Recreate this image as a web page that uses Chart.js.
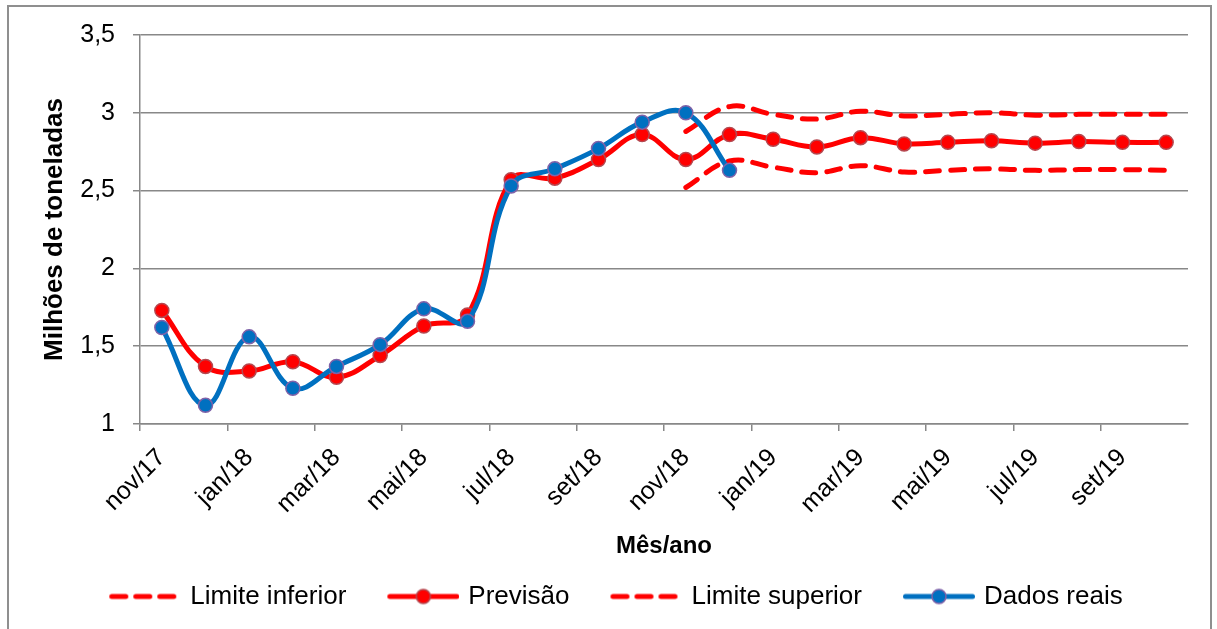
<!DOCTYPE html>
<html lang="pt">
<head>
<meta charset="utf-8">
<title>Previsão mensal</title>
<script src="https://cdn.jsdelivr.net/npm/chart.js@4.4.1/dist/chart.umd.min.js"></script>
<style>
  html, body { margin: 0; padding: 0; background: #ffffff; }
  #wrap { position: relative; width: 1217px; height: 629px; overflow: hidden; }
  #grafico { position: absolute; left: 0; top: 0; }
  #moldura { position: absolute; left: 7px; top: 5px; width: 1205px; height: 700px;
             border: 2px solid #8f8f8f; box-sizing: border-box; pointer-events: none; }
</style>
</head>
<body>
<div id="wrap">
  <canvas id="grafico" width="1217" height="629"></canvas>
  <div id="moldura"></div>
</div>
<script>
// Meses (nov/17 a out/19)
const meses = ['nov/17','dez/17','jan/18','fev/18','mar/18','abr/18','mai/18','jun/18',
               'jul/18','ago/18','set/18','out/18','nov/18','dez/18','jan/19','fev/19',
               'mar/19','abr/19','mai/19','jun/19','jul/19','ago/19','set/19','out/19'];

// Milhões de toneladas
const previsao = [1.73, 1.37, 1.34, 1.40, 1.30, 1.44, 1.63, 1.70,
                  2.57, 2.58, 2.70, 2.86, 2.70, 2.86, 2.83, 2.78,
                  2.84, 2.80, 2.81, 2.82, 2.805, 2.815, 2.81, 2.81];
const dadosReais = [1.62, 1.12, 1.56, 1.23, 1.37, 1.51, 1.74, 1.66,
                    2.53, 2.64, 2.77, 2.94, 3.00, 2.63, null, null,
                    null, null, null, null, null, null, null, null];
const limiteInferior = [null, null, null, null, null, null, null, null,
                        null, null, null, null, 2.52, 2.69, 2.65, 2.615,
                        2.66, 2.62, 2.63, 2.64, 2.63, 2.635, 2.635, 2.63];
const limiteSuperior = [null, null, null, null, null, null, null, null,
                        null, null, null, null, 2.88, 3.04, 2.99, 2.96,
                        3.01, 2.98, 2.99, 3.00, 2.985, 2.99, 2.99, 2.99];

// Escala vertical
const yMin = 1, yMax = 3.5, yPasso = 0.5;

const VERMELHO = '#ff0000';
const AZUL = '#0070c0';
const BORDA_VERMELHA = '#b5474f';
const BORDA_AZUL = '#7f62a8';
const CINZA = '#888888';

Chart.defaults.font.family = "'Liberation Sans', Arial, sans-serif";
Chart.defaults.color = '#000000';

// Símbolos da legenda desenhados em pequenos canvas
// (a imagem é um pouco mais larga que a caixa, para a linha chegar perto do texto)
const CAIXA_SIMBOLO = 99, SOBRA = 4, MARGEM_SIMBOLO = 31 + SOBRA;
const LARG_IMG = CAIXA_SIMBOLO + 2 * SOBRA;
function simboloTracejado(cor) {
  const c = document.createElement('canvas');
  c.width = LARG_IMG; c.height = 20;
  const g = c.getContext('2d');
  g.strokeStyle = cor; g.lineWidth = 5; g.lineCap = 'round';
  g.setLineDash([14, 10]);
  g.beginPath(); g.moveTo(MARGEM_SIMBOLO + 2.5, 10); g.lineTo(MARGEM_SIMBOLO + 2.5 + 63, 10); g.stroke();
  return c;
}
function simboloLinhaPonto(cor, borda) {
  const c = document.createElement('canvas');
  c.width = LARG_IMG; c.height = 20;
  const g = c.getContext('2d');
  const x0 = MARGEM_SIMBOLO + 2.5, x1 = LARG_IMG - 2.5;
  g.strokeStyle = cor; g.lineWidth = 5; g.lineCap = 'round';
  g.beginPath(); g.moveTo(x0, 10); g.lineTo(x1, 10); g.stroke();
  g.beginPath(); g.arc((x0 + x1) / 2, 10, 7, 0, Math.PI * 2);
  g.fillStyle = cor; g.fill();
  g.lineWidth = 1.5; g.strokeStyle = borda; g.stroke();
  return c;
}
const simbolos = [
  simboloTracejado(VERMELHO),
  simboloLinhaPonto(VERMELHO, BORDA_VERMELHA),
  simboloTracejado(VERMELHO),
  simboloLinhaPonto(AZUL, BORDA_AZUL)
];

const tracejado = (rotulo, valores) => ({
  label: rotulo, data: valores, order: 2,
  borderColor: VERMELHO, borderWidth: 5, borderDash: [14, 11], borderCapStyle: 'round',
  tension: 0.4, pointRadius: 0, fill: false
});

new Chart(document.getElementById('grafico'), {
  type: 'line',
  data: {
    labels: meses,
    datasets: [
      tracejado('Limite inferior', limiteInferior),
      {
        label: 'Previsão', data: previsao, order: 1,
        borderColor: VERMELHO, borderWidth: 5, tension: 0.4, fill: false,
        pointRadius: 7, pointBackgroundColor: VERMELHO,
        pointBorderColor: BORDA_VERMELHA, pointBorderWidth: 1.5
      },
      tracejado('Limite superior', limiteSuperior),
      {
        label: 'Dados reais', data: dadosReais, order: 0,
        borderColor: AZUL, borderWidth: 5, tension: 0.4, fill: false,
        pointRadius: 7, pointBackgroundColor: AZUL,
        pointBorderColor: BORDA_AZUL, pointBorderWidth: 1.5
      }
    ]
  },
  options: {
    responsive: false,
    animation: false,
    devicePixelRatio: 1,
    layout: { padding: { left: 0, right: 16, top: 35, bottom: 9.5 } },
    plugins: {
      tooltip: { enabled: false },
      legend: {
        position: 'bottom',
        labels: {
          usePointStyle: true,
          pointStyleWidth: CAIXA_SIMBOLO,
          padding: 10,
          color: '#000000',
          font: { size: 26 },
          generateLabels: (chart) => chart.data.datasets.map((ds, i) => ({
            text: ds.label,
            datasetIndex: i,
            hidden: false,
            pointStyle: simbolos[i],
            fontColor: '#000000',
            lineWidth: 0,
            rotation: 0
          }))
        }
      }
    },
    scales: {
      x: {
        type: 'category',
        offset: true,
        grid: {
          offset: true,
          drawOnChartArea: false,
          drawTicks: true,
          tickLength: 7,
          lineWidth: 1.5,
          color: (ctx) => (ctx.index % 2 === 0 ? CINZA : 'rgba(0,0,0,0)')
        },
        border: { display: true, color: CINZA, width: 1.5 },
        ticks: {
          autoSkip: false,
          minRotation: 45,
          maxRotation: 45,
          padding: 12,
          color: '#000000',
          font: { size: 25 },
          callback: (v, i) => (i % 2 === 0 ? meses[i] : '')
        },
        title: {
          display: true,
          text: 'Mês/ano',
          color: '#000000',
          font: { size: 24, weight: 'bold' },
          padding: { top: 0, bottom: 13 }
        },
        afterFit: (s) => { s.height = 149.5; }
      },
      y: {
        min: yMin,
        max: yMax,
        grid: { color: CINZA, lineWidth: 1.5, drawTicks: true, tickLength: 7 },
        border: { display: true, color: CINZA, width: 1.5 },
        ticks: {
          stepSize: yPasso,
          padding: 18,
          color: '#000000',
          font: { size: 25 },
          callback: (v) => String(v).replace('.', ',')
        },
        title: {
          display: true,
          text: 'Milhões de toneladas',
          color: '#000000',
          font: { size: 26, weight: 'bold' },
          padding: { top: 39, bottom: 0 }
        },
        afterFit: (s) => { s.width = 140; }
      },
      margemDireita: {
        position: 'right',
        display: true,
        grid: { display: false },
        border: { display: false },
        ticks: { display: false },
        afterFit: (s) => { s.width = 13; }
      }
    }
  }
});
</script>
</body>
</html>
